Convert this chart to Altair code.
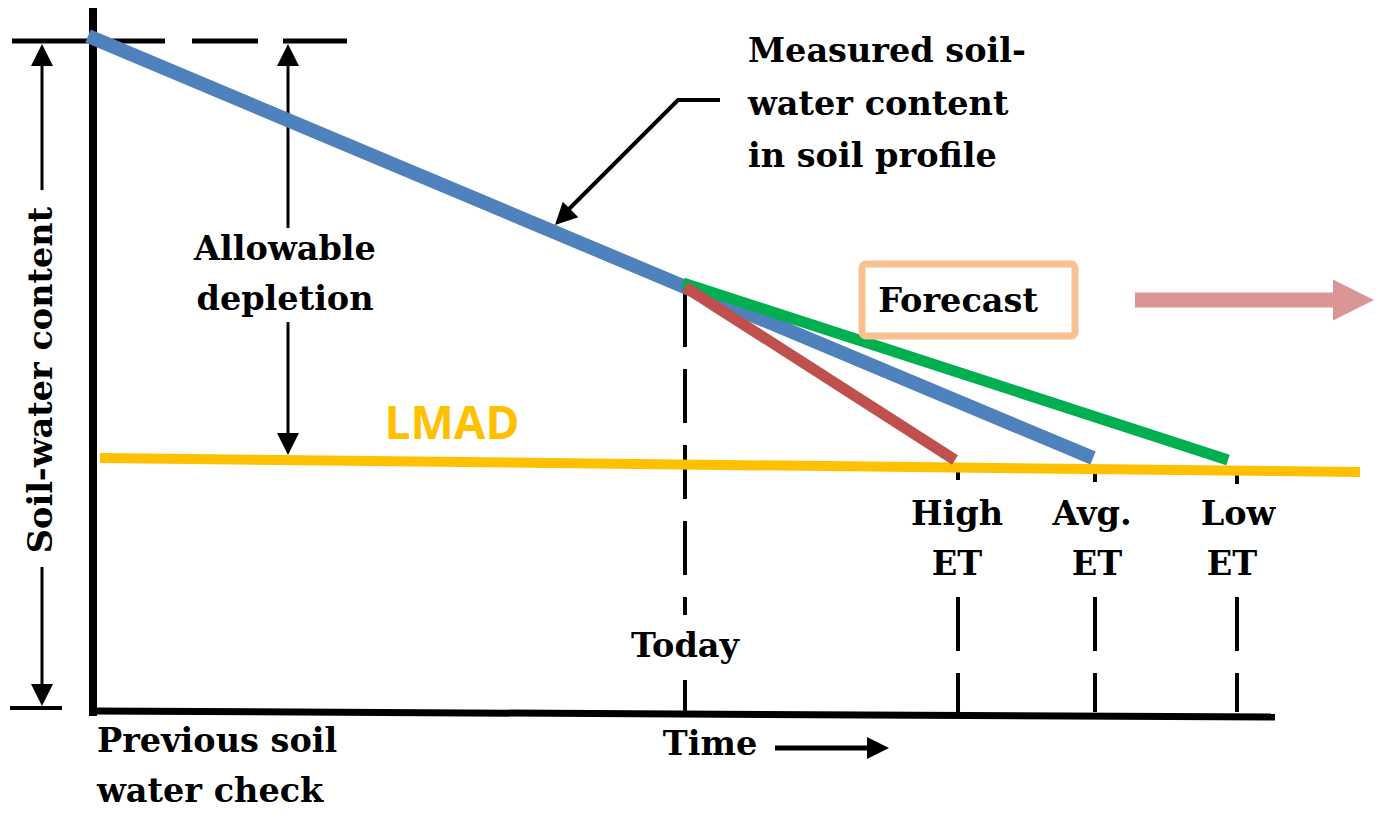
import altair as alt
import pandas as pd

# ---------------- data (time units / soil-water content units) ----------------
# Measured soil-water content (blue) and forecast branches
measured_t = [-0.5, 59.2, 100.0]
measured_w = [67.7, 42.6, 25.5]
high_et_t = [59.2, 86.2]
high_et_w = [42.6, 25.3]
low_et_t = [59.0, 113.5]
low_et_w = [43.0, 25.3]
lmad_t = [0.7, 126.7]
lmad_w = [25.5, 24.1]

# frame lines
yaxis_t = [0.0, 0.0]
yaxis_w = [70.5, -0.3]
xaxis_t = [-0.3, 118.2]
xaxis_w = [0.2, -0.4]
base_tick_t = [-8.3, -3.1]
base_tick_w = [0.5, 0.5]

# field capacity (top dashed) segments
fc_t1 = [-8.1, 9.9, 19.0]
fc_t2 = [7.2, 16.5, 25.4]
fc_w = 67.2

# double arrows (span of soil-water content, allowable depletion)
span_t = [-5.1, -5.1, 19.5, 19.5]
span_w1 = [66.0, 14.6, 66.0, 39.1]
span_w2 = [52.3, 1.8, 48.5, 26.9]

# dashed markers: Today, High ET, Avg. ET, Low ET
mark_t = [59.2, 59.2, 86.5, 86.5, 100.2, 100.2, 114.4, 114.4]
mark_w1 = [42.0, 3.3, 24.9, 11.6, 24.7, 11.6, 24.5, 11.6]
mark_w2 = [9.8, 0.1, 23.3, 0.1, 23.1, 0.1, 22.9, 0.1]

# annotation leader line
leader_t = [62.7, 58.5, 46.9]
leader_w = [61.3, 61.3, 49.7]

# time arrow shaft
time_arrow_t = [68.2, 77.8]
time_arrow_w = [-3.5, -3.5]

# arrow heads: tip position and direction (degrees clockwise from up)
head_t = [-5.1, -5.1, 19.5, 19.5, 46.2]
head_w = [66.9, 0.7, 66.9, 25.8, 48.8]
head_dir = [0, 180, 0, 180, 225]
time_head_t = [79.6]
time_head_w = [-3.5]

# forecast box and arrow
box_t = [76.9, 98.2]
box_w = [44.9, 37.7]
fc_arrow_t = [104.2, 124.2]
fc_arrow_w = [41.3, 41.3]
fc_head_t = [128.1]
fc_head_w = [41.3]

# labels
left_labels = ["Measured soil-", "water content", "in soil profile",
               "Previous soil", "water check"]
left_t = [65.5, 65.5, 65.5, 0.4, 0.4]
left_w = [66.1, 60.8, 55.6, -2.9, -7.9]

center_labels = ["Allowable", "depletion", "Forecast", "Today",
                 "High", "ET", "Avg.", "ET", "Low", "ET", "Time"]
center_t = [19.2, 19.2, 86.5, 59.2, 86.4, 86.4, 99.9, 100.4, 114.5, 113.9, 61.7]
center_w = [46.3, 41.3, 41.1, 6.6, 19.8, 14.8, 19.8, 14.8, 19.8, 14.8, -3.2]

ylabel = ["Soil-water content"]
ylabel_t = [-5.1]
ylabel_w = [33.3]

lmad_label = ["LMAD"]
lmad_label_t = [35.9]
lmad_label_w = [28.8]

# ---------------- chart ----------------
W, H = 1367, 803
xs = alt.Scale(domain=[-8.5, 128.2], nice=False, zero=False)
ys = alt.Scale(domain=[-9.8, 70.5], nice=False, zero=False)
SERIF = "DejaVu Serif"
BLACK = "#000000"


def X(f="t"):
    return alt.X(f"{f}:Q", scale=xs, axis=None)


def Y(f="w"):
    return alt.Y(f"{f}:Q", scale=ys, axis=None)


def line_layer(t, w, color, width, dash=None):
    df = pd.DataFrame({"t": t, "w": w, "o": list(range(len(t)))})
    kw = dict(color=color, strokeWidth=width, strokeCap="butt", clip=False)
    if dash:
        kw["strokeDash"] = dash
    return alt.Chart(df).mark_line(**kw).encode(x=X(), y=Y(), order="o:Q")


def seg_layer(t1, w1, t2, w2, color, width, dash=None):
    df = pd.DataFrame({"t": t1, "w": w1, "t2": t2, "w2": w2})
    kw = dict(color=color, strokeWidth=width, strokeCap="butt")
    if dash:
        kw["strokeDash"] = dash
    return alt.Chart(df).mark_rule(**kw).encode(
        x=X(), y=Y(), x2="t2:Q", y2="w2:Q")


ARROW = "M0,0L-1,2L1,2Z"


def head_layer(t, w, d, size, color):
    df = pd.DataFrame({"t": t, "w": w, "d": d})
    return alt.Chart(df).mark_point(
        shape=ARROW, filled=True, size=size, color=color, opacity=1,
        strokeWidth=0).encode(x=X(), y=Y(), angle=alt.Angle("d:Q", scale=None))


def text_layer(labels, t, w, align, color=BLACK, font=SERIF, size=33.5,
               weight="bold", angle=0):
    df = pd.DataFrame({"label": labels, "t": t, "w": w})
    return alt.Chart(df).mark_text(
        align=align, baseline="middle", font=font, fontSize=size,
        fontWeight=weight, color=color, angle=angle).encode(
        x=X(), y=Y(), text="label:N")


layers = [
    # frame
    seg_layer(yaxis_t[:1], yaxis_w[:1], yaxis_t[1:], yaxis_w[1:], BLACK, 8),
    seg_layer(xaxis_t[:1], xaxis_w[:1], xaxis_t[1:], xaxis_w[1:], BLACK, 7),
    seg_layer(base_tick_t[:1], base_tick_w[:1], base_tick_t[1:], base_tick_w[1:], BLACK, 4),
    seg_layer(fc_t1, [fc_w] * 3, fc_t2, [fc_w] * 3, BLACK, 5),
    seg_layer(span_t, span_w1, span_t, span_w2, BLACK, 3),
    seg_layer(mark_t, mark_w1, mark_t, mark_w2, BLACK, 4, dash=[54, 22]),
    line_layer(leader_t, leader_w, BLACK, 4),
    seg_layer(time_arrow_t[:1], time_arrow_w[:1], time_arrow_t[1:], time_arrow_w[1:], BLACK, 5),
    head_layer(head_t, head_w, head_dir, 484, BLACK),
    head_layer(time_head_t, time_head_w, [90], 484, BLACK),
    # data lines
    line_layer(lmad_t, lmad_w, "#FFC000", 10),
    line_layer(measured_t, measured_w, "#4F81BD", 14),
    line_layer(low_et_t, low_et_w, "#00B050", 11),
    line_layer(high_et_t, high_et_w, "#C0504D", 11),
    # forecast box + arrow
    alt.Chart(pd.DataFrame({"t": box_t[:1], "w": box_w[:1],
                            "t2": box_t[1:], "w2": box_w[1:]})).mark_rect(
        fill="white", stroke="#FAC090", strokeWidth=7, cornerRadius=4).encode(
        x=X(), y=Y(), x2="t2:Q", y2="w2:Q"),
    seg_layer(fc_arrow_t[:1], fc_arrow_w[:1], fc_arrow_t[1:], fc_arrow_w[1:], "#D99694", 15),
    head_layer(fc_head_t, fc_head_w, [90], 1681, "#D99694"),
    # labels
    text_layer(left_labels, left_t, left_w, "left"),
    text_layer(center_labels, center_t, center_w, "center"),
    text_layer(ylabel, ylabel_t, ylabel_w, "center", size=33.5, angle=270),
    text_layer(lmad_label, lmad_label_t, lmad_label_w, "center",
               color="#FFC000", font="Open Sans", size=46),
]

chart = alt.layer(*layers).properties(
    width=W, height=H, padding=0, autosize="none", background="white"
).configure_view(stroke=None)

chart.save("out.html", embed_options={"renderer": "svg", "actions": False})
